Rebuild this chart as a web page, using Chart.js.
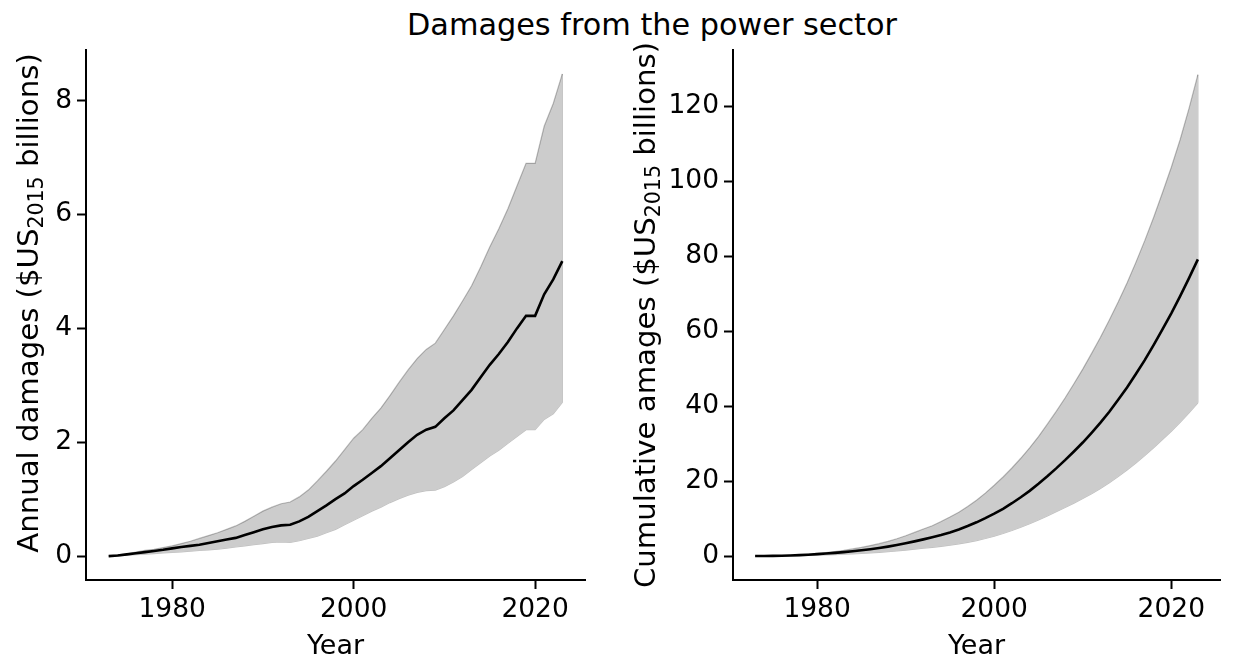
<!DOCTYPE html>
<html><head><meta charset="utf-8">
<script src="https://cdn.jsdelivr.net/npm/chart.js@4/dist/chart.umd.min.js"></script>
<style>
html,body{margin:0;padding:0;background:#fff;}
body{width:1236px;height:657px;position:relative;overflow:hidden;}
#t{position:absolute;left:0;width:1304px;top:9px;text-align:center;font:30.3px/31px "DejaVu Sans";color:#000;white-space:nowrap;}
.w{position:absolute;top:0;height:657px;width:618px;}
</style></head><body>
<div id="t">Damages from the power sector</div>
<div class="w" style="left:0"><canvas id="c1" width="618" height="657"></canvas></div>
<div class="w" style="left:618px"><canvas id="c2" width="618" height="657"></canvas></div>
<script>
const years = [1973,1974,1975,1976,1977,1978,1979,1980,1981,1982,1983,1984,1985,1986,1987,1988,1989,1990,1991,1992,1993,1994,1995,1996,1997,1998,1999,2000,2001,2002,2003,2004,2005,2006,2007,2008,2009,2010,2011,2012,2013,2014,2015,2016,2017,2018,2019,2020,2021,2022,2023];

const annualMean = [0,0.01,0.03,0.05,0.07,0.09,0.11,0.135,0.16,0.18,0.20,0.23,0.26,0.29,0.32,0.37,0.42,0.47,0.51,0.54,0.55,0.61,0.69,0.79,0.89,1.00,1.10,1.23,1.34,1.46,1.58,1.72,1.86,2.00,2.13,2.22,2.27,2.42,2.56,2.74,2.92,3.14,3.36,3.55,3.76,4.00,4.22,4.22,4.60,4.86,5.18];
const annualUpper = [0,0.02,0.04,0.07,0.10,0.12,0.15,0.18,0.22,0.26,0.31,0.36,0.41,0.47,0.53,0.61,0.70,0.79,0.86,0.92,0.95,1.04,1.16,1.32,1.49,1.67,1.87,2.07,2.22,2.42,2.60,2.82,3.05,3.27,3.47,3.63,3.74,3.98,4.22,4.48,4.75,5.08,5.43,5.75,6.10,6.50,6.90,6.90,7.55,7.95,8.47];
const annualLower = [0,0.005,0.015,0.025,0.035,0.045,0.055,0.065,0.075,0.085,0.10,0.11,0.12,0.14,0.16,0.18,0.20,0.22,0.24,0.25,0.24,0.27,0.31,0.35,0.41,0.47,0.55,0.63,0.71,0.79,0.86,0.94,1.01,1.07,1.12,1.15,1.16,1.22,1.30,1.40,1.52,1.64,1.76,1.86,1.98,2.10,2.22,2.22,2.40,2.50,2.70];

const cumMean = [0,0.01,0.04,0.09,0.16,0.25,0.36,0.5,0.66,0.84,1.04,1.27,1.53,1.82,2.14,2.51,2.93,3.40,3.91,4.45,5.0,5.6,6.3,7.1,8.0,9.0,10.1,11.3,12.6,14.1,15.7,17.4,19.3,21.3,23.4,25.6,27.9,30.3,32.9,35.6,38.5,41.7,45.0,48.6,52.3,56.3,60.5,64.8,69.4,74.2,79.2];
const cumUpper = [0,0.02,0.06,0.13,0.23,0.35,0.50,0.70,0.93,1.2,1.5,1.9,2.3,2.8,3.3,3.9,4.6,5.4,6.3,7.2,8.1,9.2,10.4,11.7,13.2,14.9,16.8,18.9,21.1,23.5,26.1,28.9,31.9,35.2,38.6,42.2,46.0,49.9,54.1,58.4,63.0,67.8,72.9,78.4,84.2,90.4,97.0,103.8,111.2,119.5,128.5];
const cumLower = [0,0.005,0.02,0.045,0.08,0.12,0.17,0.23,0.3,0.38,0.47,0.57,0.69,0.83,0.99,1.17,1.37,1.59,1.83,2.08,2.32,2.59,2.9,3.25,3.66,4.13,4.68,5.31,6.02,6.81,7.67,8.61,9.62,10.69,11.81,12.96,14.12,15.34,16.64,18.04,19.56,21.2,22.96,24.82,26.8,28.9,31.1,33.3,35.7,38.2,40.9];

const xTicks = [1980, 2000, 2020];
const yTicksAnnual = [0, 2, 4, 6, 8];
const yTicksCum = [0, 20, 40, 60, 80, 100, 120];

const FONT = '"DejaVu Sans"';

const labelPlugin = {
  id: 'axisLabels',
  afterDraw(chart, args, o) {
    const ctx = chart.ctx, ca = chart.chartArea;
    ctx.save();
    ctx.fillStyle = '#000';
    ctx.font = '27px ' + FONT;
    ctx.textAlign = 'center';
    ctx.textBaseline = 'alphabetic';
    ctx.fillText(o.xlabel, (ca.left + ca.right) / 2, o.xBase);
    ctx.translate(o.yBase, o.yCenter);
    ctx.rotate(-Math.PI / 2);
    ctx.textAlign = 'left';
    const big = '29.2px ' + FONT, small = '20.5px ' + FONT;
    ctx.font = big; const w1 = ctx.measureText(o.pre).width, w3 = ctx.measureText(o.post).width;
    ctx.font = small; const w2 = ctx.measureText(o.sub).width;
    let x = -(w1 + w2 + w3) / 2;
    ctx.font = big; ctx.fillText(o.pre, x, 0); x += w1;
    ctx.font = small; ctx.fillText(o.sub, x, 5); x += w2;
    ctx.font = big; ctx.fillText(o.post, x, 0);
    ctx.restore();
  }
};

function pts(ys) { return years.map((y, i) => ({x: y, y: ys[i]})); }

function makeChart(id, mean, upper, lower, yMin, yMax, yTicks, axisW, padRight, lab) {
  const last = years.length - 1;
  return new Chart(document.getElementById(id), {
    type: 'line',
    data: {
      datasets: [
        {data: pts(mean), borderColor: '#000', borderWidth: 2.6, pointRadius: 0, fill: false, tension: 0},
        {data: pts(upper), borderColor: 'rgba(0,0,0,0.25)', borderWidth: 1.2, pointRadius: 0, fill: '+1', backgroundColor: 'rgb(204,204,204)', tension: 0},
        {data: pts(lower), borderColor: 'rgba(0,0,0,0.25)', borderWidth: 1.2, pointRadius: 0, fill: false, tension: 0},
        {data: [{x: years[last], y: lower[last]}, {x: years[last], y: upper[last]}], borderColor: 'rgba(0,0,0,0.25)', borderWidth: 1.2, pointRadius: 0, fill: false}
      ]
    },
    options: {
      responsive: false,
      animation: false,
      events: [],
      layout: {padding: {top: 50, right: padRight, left: 0, bottom: 0}},
      plugins: {legend: {display: false}, tooltip: {enabled: false}, axisLabels: lab},
      scales: {
        x: {
          type: 'linear', min: 1970.5, max: 2025.5,
          afterBuildTicks: s => { s.ticks = xTicks.map(v => ({value: v})); },
          afterFit: s => { s.height = 77; },
          border: {display: true, color: '#000', width: 2},
          grid: {display: true, drawOnChartArea: false, drawTicks: true, tickLength: 9, tickWidth: 2, tickColor: '#000'},
          ticks: {color: '#000', font: {family: FONT, size: 26.5}, padding: 5, maxRotation: 0, callback: v => String(v)}
        },
        y: {
          type: 'linear', min: yMin, max: yMax,
          afterBuildTicks: s => { s.ticks = yTicks.map(v => ({value: v})); },
          afterFit: s => { s.width = axisW; },
          border: {display: true, color: '#000', width: 2},
          grid: {display: true, drawOnChartArea: false, drawTicks: true, tickLength: 9, tickWidth: 2, tickColor: '#000'},
          ticks: {color: '#000', font: {family: FONT, size: 26.5}, padding: 5, callback: v => String(v)}
        }
      }
    },
    plugins: [labelPlugin]
  });
}

makeChart('c1', annualMean, annualUpper, annualLower, -0.42, 8.89, yTicksAnnual, 86, 33,
  {xlabel: 'Year', xBase: 654, yBase: 38, yCenter: 303, pre: 'Annual damages ($US', sub: '2015', post: ' billions)'});
makeChart('c2', cumMean, cumUpper, cumLower, -6.4, 135.1, yTicksCum, 115, 16,
  {xlabel: 'Year', xBase: 654, yBase: 37, yCenter: 315, pre: 'Cumulative amages ($US', sub: '2015', post: ' billions)'});
</script>
</body></html>
